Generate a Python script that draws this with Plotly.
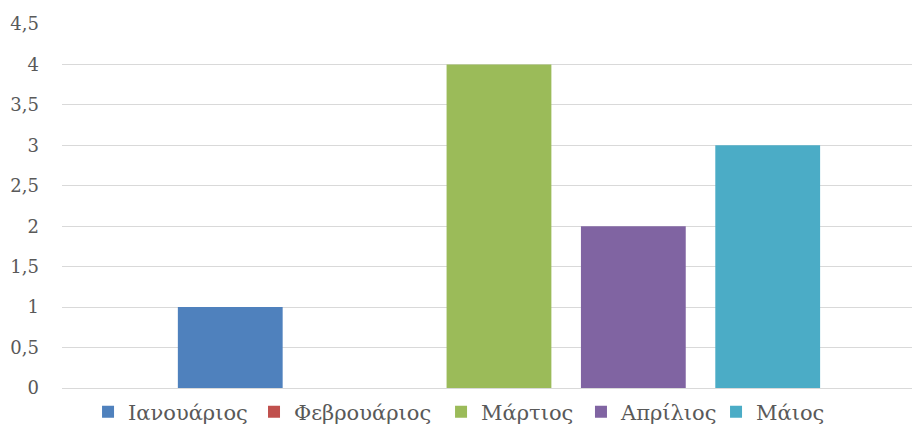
import plotly.graph_objects as go

series = ["Ιανουάριος", "Φεβρουάριος", "Μάρτιος", "Απρίλιος", "Μάιος"]
values = [1, 0, 4, 2, 3]
colors = ["#4F81BD", "#C0504D", "#9BBB59", "#8064A2", "#4BACC6"]
category = [""]
y_ticks = [0, 0.5, 1, 1.5, 2, 2.5, 3, 3.5, 4, 4.5]
legend_x = [0.0870, 0.2674, 0.4707, 0.6228, 0.7696]

legend_names = ["legend"] + ["legend%d" % i for i in range(2, 6)]

fig = go.Figure()
for name, v, c, lg in zip(series, values, colors, legend_names):
    fig.add_trace(go.Bar(x=category, y=[v], name=name, legend=lg, showlegend=True,
                         marker=dict(color=c, line=dict(width=0))))

legend_style = dict(orientation="h", xref="container", yref="container",
                    xanchor="left", y=0.0516, yanchor="middle",
                    font=dict(family="DejaVu Serif, serif", size=21, color="#595959"),
                    itemwidth=30, bgcolor="rgba(0,0,0,0)")

layout_legends = {lg: dict(legend_style, x=lx) for lg, lx in zip(legend_names, legend_x)}

# page body has an 8px margin; margins compensate for it
fig.update_layout(
    width=920, height=426,
    showlegend=True,
    paper_bgcolor="white", plot_bgcolor="white",
    margin=dict(l=54, r=8, t=16, b=46, autoexpand=False),
    barmode="group", bargap=0.217, bargroupgap=0.22,
    separators=",.",
    font=dict(family="DejaVu Serif, serif", color="#595959", size=15),
    xaxis=dict(range=[-0.5093, 0.4907], showticklabels=False, showgrid=False,
               zeroline=False, showline=False),
    yaxis=dict(range=[0, 4.5], tickvals=y_ticks, showgrid=True, gridcolor="#D9D9D9",
               gridwidth=1, zeroline=True, zerolinecolor="#D9D9D9", zerolinewidth=1,
               showline=False, ticklabelstandoff=22,
               tickfont=dict(family="DejaVu Serif, serif", size=18, color="#595959")),
    **layout_legends,
)
fig.write_html("out.html")
